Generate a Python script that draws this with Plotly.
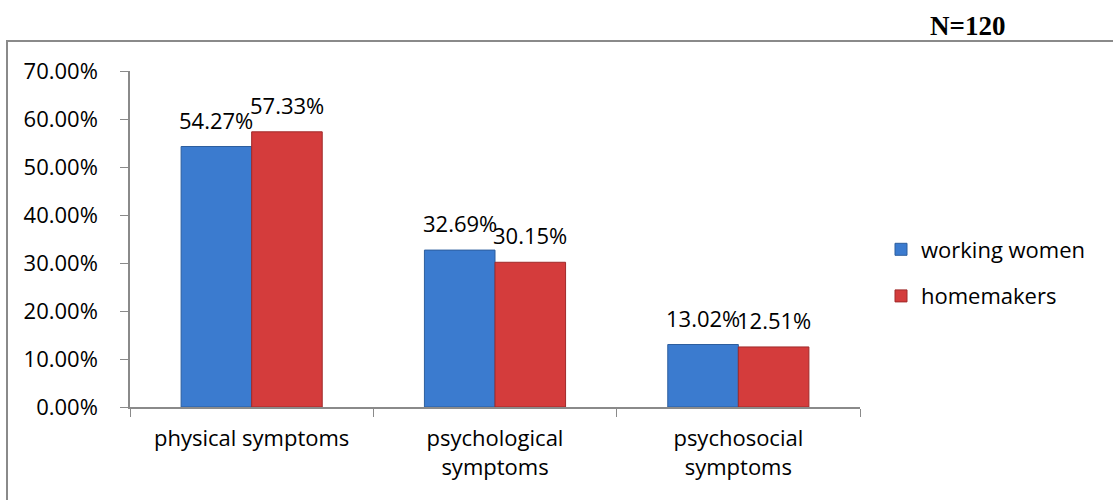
import plotly.graph_objects as go

categories = ["physical symptoms", "psychological<br>symptoms", "psychosocial<br>symptoms"]
working_women = [0.5427, 0.3269, 0.1302]
homemakers = [0.5733, 0.3015, 0.1251]
series_names = ["working women", "homemakers"]
tick_vals = [0, 0.1, 0.2, 0.3, 0.4, 0.5, 0.6, 0.7]
tick_text = ["0.00%", "10.00%", "20.00%", "30.00%", "40.00%", "50.00%", "60.00%", "70.00%"]

FONT = "Open Sans, Calibri, sans-serif"
FS = 22

PL, PR, PT, PB = 130, 860, 71, 407
pw, ph = PR - PL, PB - PT
bargap = 0.42
cat_w = pw / len(categories)
bar_w = cat_w * (1 - bargap) / 2

fig = go.Figure()
fig.add_trace(go.Bar(
    x=categories, y=working_women, name=series_names[0], legendgroup="a",
    marker=dict(color="#3b7bcf", line=dict(color="#2d5e9e", width=1)),
))
fig.add_trace(go.Bar(
    x=categories, y=homemakers, name=series_names[1], legendgroup="b",
    marker=dict(color="#d43c3c", line=dict(color="#a02a2a", width=1)),
))

annotations = []
for series, shift in ((working_women, -bar_w / 2), (homemakers, bar_w / 2)):
    for c, v in zip(categories, series):
        annotations.append(dict(x=c, y=v, xref="x", yref="y", text=f"{v*100:.2f}%",
                                showarrow=False, xanchor="center", yanchor="bottom",
                                xshift=shift, yshift=10,
                                font=dict(size=FS, family=FONT, color="#000")))
annotations.append(dict(text="<b>N=120</b>", xref="paper", yref="paper",
                        x=(967 - PL) / pw, y=(PB - 26) / ph, xanchor="center", yanchor="middle",
                        showarrow=False,
                        font=dict(family="Liberation Serif, Times New Roman, serif", size=27, color="#000")))

fig.update_layout(
    width=1113, height=500,
    margin=dict(l=PL, r=1113 - PR, t=PT, b=500 - PB),
    paper_bgcolor="white", plot_bgcolor="white",
    barmode="group", bargap=bargap, bargroupgap=0,
    font=dict(family=FONT, size=FS, color="#000000"),
    legend=dict(x=(881 - PL) / pw, xanchor="left", y=(PB - 273) / ph, yanchor="middle",
                font=dict(size=FS, family=FONT), itemwidth=30,
                tracegroupgap=15, bgcolor="rgba(0,0,0,0)"),
    annotations=annotations,
    shapes=[dict(type="rect", xref="paper", yref="paper",
                 x0=(7 - PL) / pw, x1=(1130 - PL) / pw,
                 y0=-0.5, y1=(PB - 41) / ph,
                 line=dict(color="#8a8a8a", width=2), fillcolor="rgba(0,0,0,0)", layer="below")],
)

fig.update_xaxes(showline=True, linecolor="#8a8a8a", linewidth=1.5,
                 ticks="outside", tickson="boundaries", ticklen=8, tickcolor="#8a8a8a",
                 showgrid=False, ticklabelstandoff=11, tickfont=dict(size=FS, family=FONT))
fig.update_yaxes(range=[0, 0.7], tickvals=tick_vals, ticktext=tick_text,
                 showline=True, linecolor="#8a8a8a", linewidth=1.5,
                 ticks="outside", ticklen=8, tickcolor="#8a8a8a",
                 showgrid=False, zeroline=False, ticklabelstandoff=18,
                 tickfont=dict(size=FS, family=FONT))

fig.write_html("out.html")
